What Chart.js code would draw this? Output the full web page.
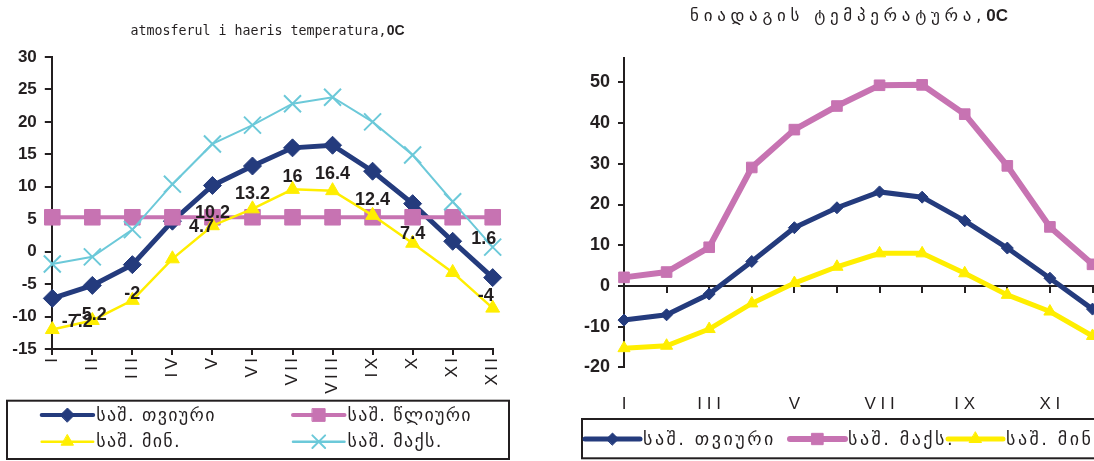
<!DOCTYPE html>
<html><head><meta charset="utf-8">
<script src="https://cdn.jsdelivr.net/npm/chart.js@4/dist/chart.umd.min.js"></script>
<style>
html,body{margin:0;padding:0;background:#fff;overflow:hidden;width:1094px;height:461px;position:relative;}
#c1{position:absolute;left:0;top:0;}
#c2{position:absolute;left:555px;top:0;}
.title{position:absolute;white-space:nowrap;color:#231f20;text-align:center;}
#t1{left:0;top:21px;width:535px;line-height:17px;}
#t1 .a{font-family:"DejaVu Sans Mono",monospace;font-size:13.3px;}
#t1 .b{font-family:"Liberation Sans",Arial,sans-serif;font-weight:bold;font-size:14px;}
#t2{left:609px;top:4px;width:480px;line-height:22px;}
#t2 .a{font-family:"DejaVu Sans",sans-serif;font-size:17px;letter-spacing:4.7px;}
#t2 .b{font-family:"Liberation Sans",Arial,sans-serif;font-weight:bold;font-size:17px;}
</style></head><body>
<canvas id="c1" width="540" height="461"></canvas>
<canvas id="c2" width="560" height="461"></canvas>
<div class="title" id="t1"><span class="a">atmosferul i haeris temperatura,</span><span class="b">0C</span></div>
<div class="title" id="t2"><span class="a">ნიადაგის ტემპერატურა,</span><span class="b">0C</span></div>
<script>
// ---------- data ----------
const months = ["I","II","III","IV","V","VI","VII","VIII","IX","X","XI","XII"];

// air temperature (left chart)
const airMonthly = [-7.2, -5.2, -2, 4.7, 10.2, 13.2, 16, 16.4, 12.4, 7.4, 1.6, -4];
const airAnnual  = [5.3, 5.3, 5.3, 5.3, 5.3, 5.3, 5.3, 5.3, 5.3, 5.3, 5.3, 5.3];
const airMin     = [-12.0, -10.6, -7.5, -1.1, 4.0, 6.6, 9.6, 9.4, 5.6, 1.3, -3.2, -8.7];
const airMax     = [-1.9, -0.8, 3.4, 10.4, 16.6, 19.5, 22.8, 23.8, 20.0, 14.9, 7.7, 0.7];

// soil temperature (right chart)
const soilMonthly = [-8.4, -7.1, -2.0, 6.0, 14.3, 19.2, 23.1, 21.8, 16.0, 9.3, 1.9, -5.7];
const soilMax     = [2.1, 3.4, 9.5, 29.1, 38.4, 44.2, 49.3, 49.4, 42.2, 29.5, 14.5, 5.3];
const soilMin     = [-15.3, -14.7, -10.6, -4.3, 0.7, 4.7, 8.0, 8.0, 3.1, -2.2, -6.3, -12.3];

const leftYTicks  = {min: -15, max: 30, step: 5};
const rightYTicks = {min: -20, max: 56, step: 10};

const lblMonthly = "საშ. თვიური";
const lblAnnual  = "საშ. წლიური";
const lblMin     = "საშ. მინ.";
const lblMax     = "საშ. მაქს.";

// ---------- style ----------
const NAVY = "#243b7d", PINK = "#c773b2", YELLOW = "#ffee00", CYAN = "#6cc9d9", INK = "#231f20";
const ARIAL = '"Liberation Sans", Arial, sans-serif';
const GEO = '"DejaVu Sans", sans-serif';

// ---------- plugins ----------
const boxLegend = {
  id: 'boxLegend',
  afterDraw(chart, args, o) {
    if (!o || !o.items) return;
    const ctx = chart.ctx;
    ctx.save();
    ctx.strokeStyle = INK; ctx.lineWidth = 2;
    ctx.strokeRect(o.box[0], o.box[1], o.box[2], o.box[3]);
    chart.data.datasets.forEach((ds, i) => {
      const [x, y] = o.items[i];
      ctx.strokeStyle = ds.borderColor;
      ctx.lineWidth = o.lineWidths ? o.lineWidths[i] : ds.borderWidth;
      ctx.lineCap = 'round';
      ctx.beginPath(); ctx.moveTo(x, y); ctx.lineTo(x + o.lineLen, y); ctx.stroke();
      ctx.fillStyle = ds.pointBackgroundColor;
      ctx.strokeStyle = ds.pointBorderColor;
      ctx.lineWidth = ds.pointBorderWidth;
      Chart.helpers.drawPoint(ctx, {pointStyle: ds.pointStyle, radius: o.markerRadius[i], borderWidth: ds.pointBorderWidth, rotation: 0}, x + o.lineLen / 2, y);
      ctx.fillStyle = INK;
      ctx.font = o.font;
      ctx.letterSpacing = o.letterSpacing || '0px';
      ctx.textBaseline = 'middle';
      ctx.textAlign = 'left';
      ctx.fillText(ds.label, x + o.lineLen + o.gap, y + 1);
      ctx.letterSpacing = '0px';
    });
    ctx.restore();
  }
};

const valueLabels = {
  id: 'valueLabels',
  afterDatasetsDraw(chart, args, o) {
    if (!o || o.datasetIndex === undefined) return;
    const ctx = chart.ctx;
    const meta = chart.getDatasetMeta(o.datasetIndex);
    const ds = chart.data.datasets[o.datasetIndex];
    ctx.save();
    ctx.font = o.font; ctx.fillStyle = INK;
    ctx.textAlign = 'center'; ctx.textBaseline = 'middle';
    meta.data.forEach((pt, i) => {
      const off = o.offsets[i] || [0, o.dy];
      ctx.fillText(String(ds.data[i]), pt.x + off[0], pt.y + off[1]);
    });
    ctx.restore();
  }
};

Chart.defaults.animation = false;
Chart.defaults.font.family = ARIAL;
Chart.defaults.color = INK;

function line(label, data, color, width, style, radius, order, border) {
  return {
    label, data, borderColor: color, backgroundColor: color, borderWidth: width,
    pointStyle: style, pointRadius: radius, pointHoverRadius: radius,
    pointBackgroundColor: color, pointBorderColor: color, pointBorderWidth: border || 1,
    tension: 0, order
  };
}

// ---------- left chart ----------
new Chart(document.getElementById('c1'), {
  type: 'line',
  data: {
    labels: months,
    datasets: [
      line(lblMonthly, airMonthly, NAVY, 5, 'rectRot', 9, 4),
      line(lblAnnual, airAnnual, PINK, 4, 'rect', 11, 3),
      line(lblMin, airMin, YELLOW, 2.5, 'triangle', 8, 2),
      line(lblMax, airMax, CYAN, 2, 'crossRot', 12, 1, 2)
    ]
  },
  options: {
    responsive: false,
    layout: {padding: {top: 57, right: 47.3, left: 0, bottom: 0}},
    plugins: {
      legend: {display: false}, title: {display: false}, tooltip: {enabled: false},
      boxLegend: {
        box: [7, 400.7, 502, 58.3],
        items: [[41.7, 415], [293, 415], [41.7, 441.7], [293, 441.7]],
        lineLen: 51.5, gap: 3, font: '18px ' + GEO, letterSpacing: '1.3px',
        lineWidths: [4, 4, 2.5, 2.5],
        markerRadius: [7, 9, 7, 9]
      },
      valueLabels: {
        datasetIndex: 0, font: 'bold 18px ' + ARIAL, dy: 29,
        offsets: [[25, 24], [-1, 30], [0, 29], [29, 6], [0, 28], [0, 28], [0, 29], [0, 29], [0, 29], [0, 30], [31, -2], [-7, 18]]
      }
    },
    scales: {
      x: {
        ticks: {
          autoSkip: false, minRotation: 90, maxRotation: 90, padding: 3,
          font: {family: ARIAL, size: 17}, color: INK,
          callback: (v, i) => months[i].split('').join('\u2009')
        },
        grid: {drawOnChartArea: false, tickLength: 6, color: INK, lineWidth: 2},
        border: {display: true, color: INK, width: 2},
        afterFit(s) { s.height = 461 - 349; }
      },
      y: {
        min: leftYTicks.min, max: leftYTicks.max,
        ticks: {stepSize: leftYTicks.step, padding: 8, font: {family: ARIAL, size: 17, weight: 'bold'}, color: INK},
        grid: {drawOnChartArea: false, tickLength: 7.5, color: INK, lineWidth: 2},
        border: {display: true, color: INK, width: 2},
        afterFit(s) { s.width = 52.3; }
      }
    }
  },
  plugins: [boxLegend, valueLabels]
});

// ---------- right chart ----------
new Chart(document.getElementById('c2'), {
  type: 'line',
  data: {
    labels: months,
    datasets: [
      line(lblMonthly, soilMonthly, NAVY, 5, 'rectRot', 6, 3),
      line(lblMax, soilMax, PINK, 6, 'rect', 7.5, 2),
      line(lblMin, soilMin, YELLOW, 5, 'triangle', 7, 1)
    ]
  },
  options: {
    responsive: false,
    layout: {padding: {top: 58, right: 22.5, left: 0, bottom: 0}},
    plugins: {
      legend: {display: false}, title: {display: false}, tooltip: {enabled: false},
      boxLegend: {
        box: [27, 419, 560, 39.3],
        items: [[30, 439], [235, 439], [393, 439]],
        lineLen: 55, gap: 3, font: '18px ' + GEO, letterSpacing: '2.5px',
        lineWidths: [5, 6, 5],
        markerRadius: [6, 8, 7]
      }
    },
    scales: {
      x: {
        ticks: {
          autoSkip: false, maxRotation: 0, minRotation: 0, padding: 19,
          font: {family: ARIAL, size: 17}, color: INK,
          callback: (v, i) => (i % 2 === 0 ? months[i].split('').join(' ') : '')
        },
        grid: {display: false},
        border: {display: false},
        afterFit(s) { s.height = 461 - 367.3; }
      },
      x2: {
        type: 'category', position: {y: 0},
        ticks: {display: false},
        grid: {drawOnChartArea: false, tickLength: 6, color: INK, lineWidth: 2},
        border: {display: true, color: INK, width: 2}
      },
      y: {
        min: rightYTicks.min, max: rightYTicks.max,
        ticks: {stepSize: rightYTicks.step, includeBounds: false, padding: 8, font: {family: ARIAL, size: 18, weight: 'bold'}, color: INK},
        grid: {drawOnChartArea: false, tickLength: 6, color: INK, lineWidth: 2},
        border: {display: true, color: INK, width: 2},
        afterFit(s) { s.width = 69; }
      }
    }
  },
  plugins: [boxLegend]
});
</script>
</body></html>
